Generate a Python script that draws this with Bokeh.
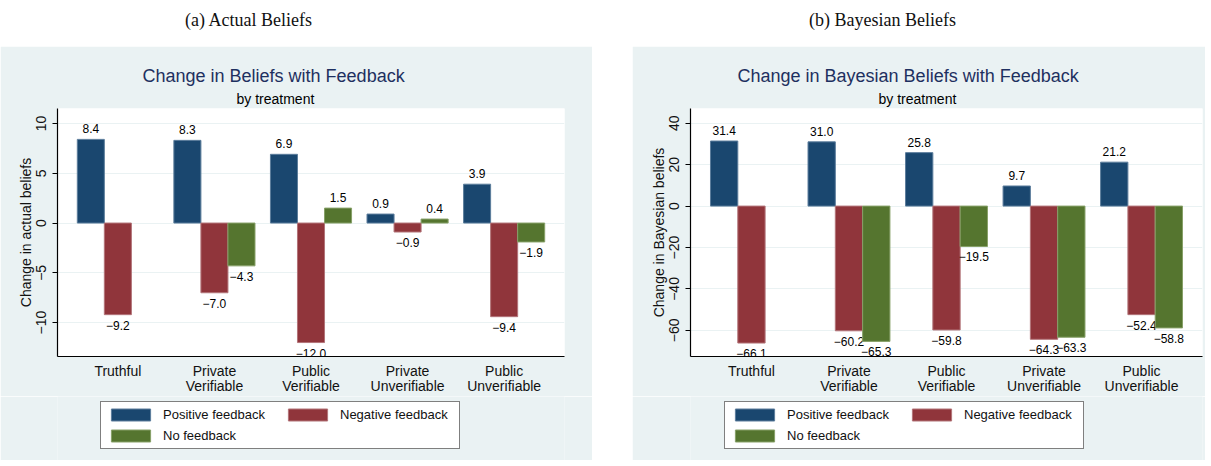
from bokeh.plotting import figure
from bokeh.models import (ColumnDataSource, FactorRange, Range1d, Legend, LegendItem,
                          Title, Div, CustomJSTickFormatter)
from bokeh.layouts import row, column
from bokeh.transform import dodge
from bokeh.embed import file_html
from bokeh.resources import INLINE
from bokeh.core.properties import value, field

# ---------------- data ----------------
treatments = ["Truthful", "Private\nVerifiable", "Public\nVerifiable",
              "Private\nUnverifiable", "Public\nUnverifiable"]
series_names = ["Positive feedback", "Negative feedback", "No feedback"]

actual_positive = [8.4, 8.3, 6.9, 0.9, 3.9]
actual_negative = [-9.2, -7.0, -12.0, -0.9, -9.4]
actual_none = [None, -4.3, 1.5, 0.4, -1.9]

bayes_positive = [31.4, 31.0, 25.8, 9.7, 21.2]
bayes_negative = [-66.1, -60.2, -59.8, -64.3, -52.4]
bayes_none = [None, -65.3, -19.5, -63.3, -58.8]

actual_ticks = [-10, -5, 0, 5, 10]
bayes_ticks = [-60, -40, -20, 0, 20, 40]

# ---------------- style ----------------
BG = "#EAF2F3"
COLORS = ["#1A476F", "#90353B", "#55752F"]
OUTLINES = ["#5C7D9C", "#B27479", "#87A068"]
FONT = "Liberation Sans"
TITLE_COLOR = "#1E3060"
TEXT = "#111111"
NAN = float("nan")


def fmt(v):
    return f"{v:.1f}".replace("-", "\u2212")


def make_panel(title, ylabel, pos, neg, none, ticks, yr, width,
               min_left, min_right, title_off, sub_off):
    p = figure(x_range=FactorRange(factors=treatments, range_padding=0.05),
               y_range=Range1d(*yr), width=width, height=350,
               output_backend="svg", toolbar_location=None,
               min_border_left=min_left, min_border_right=min_right,
               min_border_top=62, min_border_bottom=39,
               background_fill_color="white", border_fill_color=BG,
               outline_line_color=None)

    p.add_layout(Title(text="by treatment", align="left", text_font_size="14px",
                       text_font=FONT, text_font_style="normal", text_color="black",
                       offset=sub_off, standoff=4), "above")
    p.add_layout(Title(text=title, align="left", text_font_size="18px",
                       text_font=FONT, text_font_style="normal", text_color=TITLE_COLOR,
                       offset=title_off, standoff=2), "above")

    for vals, off, color, outline in zip([pos, neg, none], [-0.28, 0.0, 0.28],
                                         COLORS, OUTLINES):
        xs = [t for t, v in zip(treatments, vals) if v is not None]
        ys = [v for v in vals if v is not None]
        src = ColumnDataSource(dict(
            x=xs, y=ys, label=[fmt(v) for v in ys],
            vbase=["bottom" if v >= 0 else "top" for v in ys],
            yoff=[-6 if v >= 0 else 6 for v in ys]))
        p.vbar(x=dodge("x", off, range=p.x_range), top="y", bottom=0, width=0.28,
               source=src, fill_color=color, line_color=outline, line_width=1)
        p.text(x=dodge("x", off, range=p.x_range), y="y", text="label", source=src,
               text_align="center", text_baseline=field("vbase"), y_offset="yoff",
               text_font_size="12px", text_font=value(FONT), text_color="black")

    p.xgrid.grid_line_color = None
    p.ygrid.grid_line_color = BG
    p.ygrid.grid_line_width = 1.2

    xa = p.xaxis[0]
    xa.major_tick_line_color = None
    xa.minor_tick_line_color = None
    xa.axis_line_color = "black"
    xa.axis_line_width = 1.2
    xa.major_label_text_font_size = "14px"
    xa.major_label_text_font = FONT
    xa.major_label_text_color = TEXT
    xa.major_label_standoff = 0
    xa.major_label_text_line_height = 0.95

    ya = p.yaxis[0]
    ya.ticker = ticks
    ya.formatter = CustomJSTickFormatter(
        code="return tick < 0 ? '\\u2212' + Math.abs(tick) : String(tick);")
    ya.major_label_orientation = "vertical"
    ya.major_label_text_font_size = "14px"
    ya.major_label_text_font = FONT
    ya.major_label_text_color = TEXT
    ya.major_label_standoff = 6
    ya.major_tick_out = 5
    ya.major_tick_in = 0
    ya.minor_tick_line_color = None
    ya.axis_line_color = "black"
    ya.axis_line_width = 1.2
    ya.major_tick_line_color = "black"
    ya.axis_label = ylabel
    ya.axis_label_text_font_size = "14px"
    ya.axis_label_text_font = FONT
    ya.axis_label_text_font_style = "normal"
    ya.axis_label_text_color = TEXT
    ya.axis_label_standoff = 0
    return p


def make_legend(width, left):
    lf = figure(width=width, height=64, output_backend="svg", toolbar_location=None,
                x_axis_location=None, y_axis_location=None,
                min_border=0, background_fill_color=BG, border_fill_color=BG,
                outline_line_color=None)
    lf.grid.visible = False
    items = []
    for name, color, outline in zip(series_names, COLORS, OUTLINES):
        # legend-only swatch renderer (NaN coordinates: nothing is drawn in the frame)
        r = lf.vbar(x=[NAN], top=[NAN], width=0.5, fill_color=color, line_color=outline)
        items.append(LegendItem(label=name, renderers=[r]))
    legend = Legend(items=items, location=(left, 11), orientation="horizontal", ncols=2,
                    border_line_color="black", border_line_width=1,
                    background_fill_color="white", background_fill_alpha=1.0,
                    glyph_width=49, glyph_height=15, label_height=15, label_width=114,
                    label_standoff=8, spacing=6, padding=5, margin=0,
                    label_text_font_size="13px", label_text_font=FONT,
                    label_text_color=TEXT)
    lf.add_layout(legend, "center")
    return lf


pa = make_panel("Change in Beliefs with Feedback", "Change in actual beliefs",
                actual_positive, actual_negative, actual_none, actual_ticks,
                (-13.4, 11.5), 592, 57, 28, 85, 179)
pb = make_panel("Change in Bayesian Beliefs with Feedback", "Change in Bayesian beliefs",
                bayes_positive, bayes_negative, bayes_none, bayes_ticks,
                (-72.6, 47.1), 573, 58, 3, 47, 188)


def caption(text, pad, width):
    return Div(text=(f'<div style="padding-left:{pad}px;padding-top:3px;'
                     f'font-family:\'Liberation Serif\';font-size:18px;color:#111;'
                     f'white-space:nowrap">{text}</div>'),
               width=width, height=36)


left = column(caption("(a) Actual Beliefs", 180, 592), pa, make_legend(592, 43), spacing=0)
right = column(caption("(b) Bayesian Beliefs", 172, 573), pb, make_legend(573, 34), spacing=0)
layout = row(left, right, spacing=30)

open("out.html", "w").write(file_html(layout, INLINE))
